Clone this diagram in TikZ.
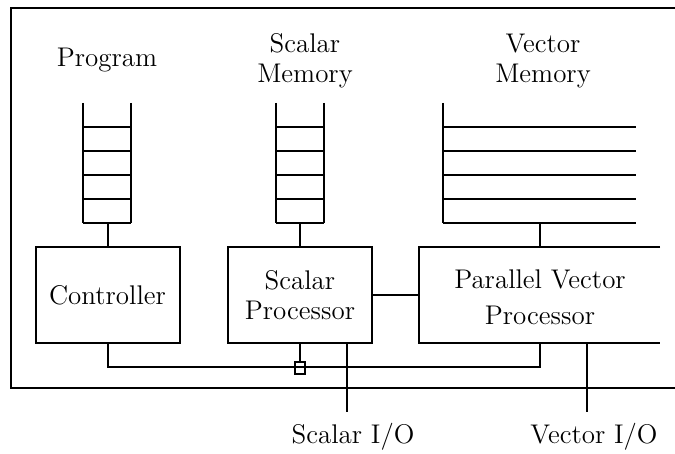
\documentclass[tikz,border=0pt]{standalone}
\begin{document}
\begin{tikzpicture}
[
 x=0.5pt, y=-0.5pt,
 line width=1pt,
 every node/.style ={font=\fontsize{13.5}{15}\selectfont, inner sep=0pt},
 T/.style={align=center},
 B/.style={rectangle, draw=black, line width=1pt, minimum width=72pt, minimum height=48pt, align=center},
 Q/.style={rectangle, draw=black, line width=0.8pt, minimum width=5pt, minimum height=6pt}
 ],
 %
\useasboundingbox (0,0) rectangle (675,454);
\draw [line width=1.3pt] (675,8) -- (11,8) -- (11,388) -- (675,388);
%
\node [T]  (P)    at ( 107, 60)  {Program};
\node [T]  (SM)   at ( 305, 61)  {Scalar\\Memory};
\node [T]  (VM)   at ( 543, 61)  {Vector\\Memory};
%
\foreach \x in {83,276} {
  \draw (\x,103) -- (\x,223);
  \draw (\x+48,103) -- (\x+48,223);
  \foreach \y in {127,151,175,199,223} \draw (\x,\y) -- (\x+48,\y);
}
\draw (443,103) -- (443,223);
\foreach \y in {127,151,175,199,223} \draw (443,\y) -- (636,\y);
%
\coordinate (PS)  at (107.5,223);
\coordinate (SS)  at (300,223);
\coordinate (VS)  at (540,223);
%
\node [B]  (C)    at ( 107.5, 295)  {Controller};
\node [B]  (SP)   at ( 300, 295)  {Scalar\\Processor};
\draw (660,247) -- (419,247) -- (419,343) -- (660,343);
\node [T]  (PV)   at ( 540, 297)  {Parallel Vector\\[3pt]Processor};
%
\coordinate (PVt)  at (540,247);
\coordinate (PVl)  at (419,295);
\coordinate (PVb)  at (540,343);
\coordinate (PVio) at (587,343);
\coordinate (SPio) at (347,343);
\coordinate (BL)   at (107.5,367);
\coordinate (BR)   at (540,367);
%
\node [Q]  (SQ)   at ( 300, 368)  {};
\node [T]  (SIO)  at ( 353, 437)  {Scalar I/O};
\node [T]  (VIO)  at ( 594, 437)  {Vector I/O};
%
\draw  (PS)  -- (C.north) ;
\draw  (SS)  -- (SP.north) ;
\draw  (VS)  -- (PVt) ;
\draw  (SP.east) -- (PVl) ;
\draw  (C.south) -- (BL) -- (BR) -- (PVb) ;
\draw  (SP.south) -- (SQ.north) ;
\draw  (SPio) -- (SPio |- 0,412) ;
\draw  (PVio) -- (PVio |- 0,412) ;
%
\end{tikzpicture}
\end{document}
